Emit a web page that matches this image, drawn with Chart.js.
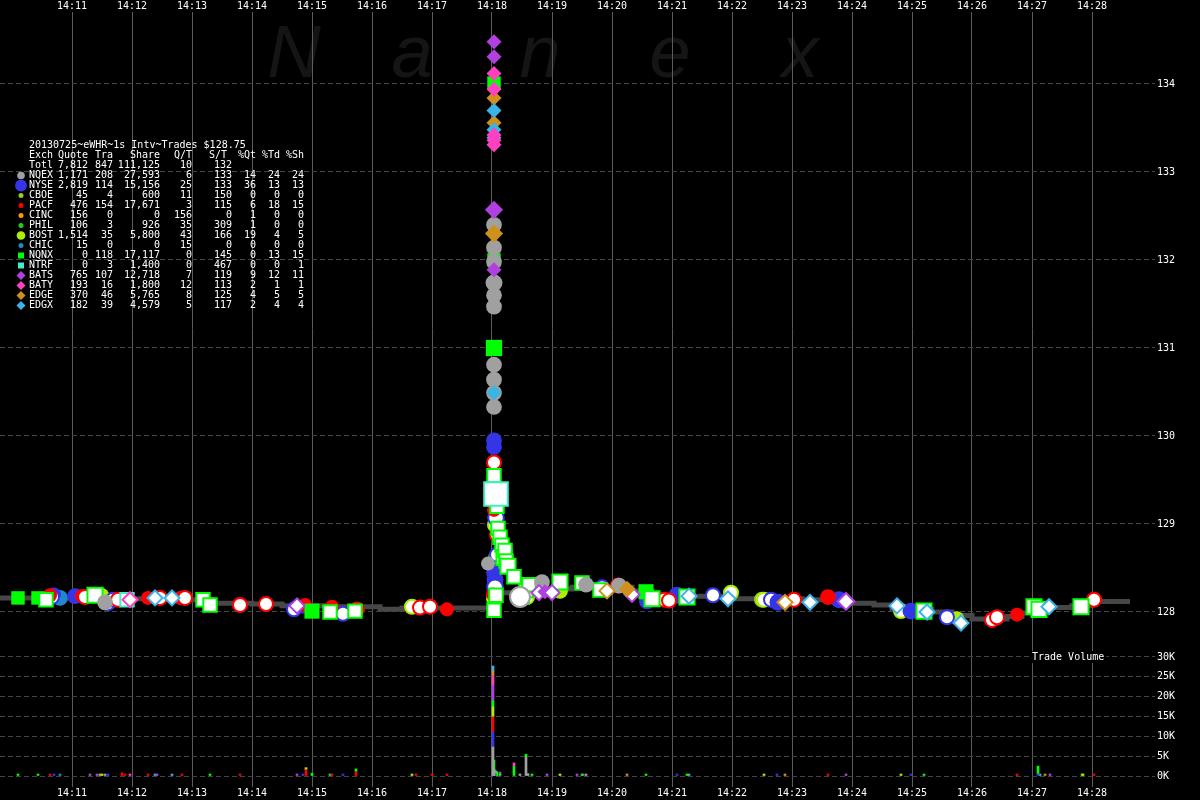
<!DOCTYPE html>
<html>
<head>
<meta charset="utf-8">
<title>Nanex eWHR trades 2013-07-25</title>
<script src="https://cdn.jsdelivr.net/npm/chart.js@4.4.1/dist/chart.umd.min.js"></script>
<style>
html,body{margin:0;padding:0;background:#000;}
body{width:1200px;height:800px;position:relative;overflow:hidden;}
canvas{position:absolute;left:0;display:block;}
#priceCanvas{top:0;}
#volCanvas{top:645px;}
</style>
</head>
<body>
<canvas id="priceCanvas" width="1200" height="645"></canvas>
<canvas id="volCanvas" width="1200" height="155"></canvas>
<script>
// ---------------- DATA ----------------
const chartTitle = '20130725~eWHR~1s Intv~Trades $128.75';
const watermark = ['N', 'a', 'n', 'e', 'x'];
const volumeLabel = 'Trade Volume';

const timeTicks = ['14:11','14:12','14:13','14:14','14:15','14:16','14:17','14:18','14:19',
                   '14:20','14:21','14:22','14:23','14:24','14:25','14:26','14:27','14:28'];
const priceTicks = [128, 129, 130, 131, 132, 133, 134];
const volumeTicks = [0, 5000, 10000, 15000, 20000, 25000, 30000];

// summary table
const tableHeader = ['Exch', 'Quote', 'Tra', 'Share', 'Q/T', 'S/T', '%Qt', '%Td', '%Sh'];
const totalRow = ['Totl', 7812, 847, 111125, 10, 132];
const exchanges   = ['NQEX','NYSE','CBOE','PACF','CINC','PHIL','BOST','CHIC','NQNX','NTRF','BATS','BATY','EDGE','EDGX'];
const exchQuotes  = [1171, 2819, 45, 476, 156, 106, 1514, 15, 0, 0, 765, 193, 370, 182];
const exchTrades  = [208, 114, 4, 154, 0, 3, 35, 0, 118, 3, 107, 16, 46, 39];
const exchShares  = [27593, 15156, 600, 17671, 0, 926, 5800, 0, 17117, 1400, 12718, 1800, 5765, 4579];
const exchQPerT   = [6, 25, 11, 3, 156, 35, 43, 15, 0, 0, 7, 12, 8, 5];
const exchSPerT   = [133, 133, 150, 115, 0, 309, 166, 0, 145, 467, 119, 113, 125, 117];
const exchPctQt   = [14, 36, 0, 6, 1, 1, 19, 0, 0, 0, 9, 2, 4, 2];
const exchPctTd   = [24, 13, 0, 18, 0, 0, 4, 0, 13, 0, 12, 1, 5, 4];
const exchPctSh   = [24, 13, 0, 15, 0, 0, 5, 0, 15, 1, 11, 1, 5, 4];

// trades: [time, price, shares, sale condition]  ('F' = intermarket sweep)
const tradesNQEX = [
  ['14:11:33',128.11,150,''],['14:17:56',128.55,100,''],
  ['14:18:02',132.40,150,''],['14:18:02',132.14,150,''],['14:18:02',131.98,150,''],
  ['14:18:02',131.74,200,''],['14:18:02',131.60,150,''],['14:18:02',131.47,150,''],
  ['14:18:02',130.81,150,''],['14:18:02',130.64,150,''],['14:18:02',130.49,150,''],
  ['14:18:02',130.33,150,''],['14:18:28',128.17,400,'F'],['14:18:50',128.34,150,''],
  ['14:19:34',128.31,150,''],['14:20:07',128.30,150,'']
];
const tradesNYSE = [
  ['14:10:42',128.20,100,''],['14:10:40',128.17,100,'F'],['14:11:03',128.18,150,''],
  ['14:11:36',128.10,100,'F'],['14:11:41',128.14,100,'F'],['14:14:42',128.03,100,'F'],
  ['14:14:51',128.06,100,''],['14:15:31',127.98,100,'F'],['14:18:02',129.95,150,''],
  ['14:18:02',129.875,150,''],['14:18:02',128.45,150,''],['14:18:03',128.37,200,''],
  ['14:18:03',128.28,150,'F'],['14:18:04',129.07,150,'F'],['14:18:05',128.65,100,'F'],
  ['14:19:50',128.28,100,'F'],['14:20:35',128.12,150,''],['14:21:05',128.19,200,''],
  ['14:21:41',128.19,100,'F'],['14:22:39',128.14,100,'F'],['14:22:46',128.11,200,''],
  ['14:23:47',128.14,200,''],['14:24:59',128.01,200,''],['14:25:35',127.94,100,'F']
];
const tradesCBOE = [['14:11:28',128.19,100,'F'],['14:22:30',128.14,100,'F']];
const tradesPACF = [
  ['14:10:38',128.19,100,''],['14:11:10',128.18,100,''],['14:11:13',128.17,100,'F'],
  ['14:11:46',128.14,100,'F'],['14:12:16',128.16,100,''],['14:12:28',128.16,100,'F'],
  ['14:12:48',128.16,100,''],['14:12:53',128.16,100,'F'],['14:13:48',128.08,100,'F'],
  ['14:14:14',128.09,100,'F'],['14:14:53',128.08,100,''],['14:15:20',128.06,100,''],
  ['14:15:45',128.03,150,''],['14:16:48',128.05,100,'F'],['14:16:58',128.06,100,'F'],
  ['14:17:15',128.03,100,''],['14:18:01',128.20,100,''],['14:18:02',129.16,100,''],
  ['14:18:02',129.70,100,'F'],['14:18:05',128.875,100,'F'],['14:20:06',128.30,100,'F'],
  ['14:20:52',128.14,100,'F'],['14:20:57',128.13,100,'F'],['14:23:02',128.14,100,'F'],
  ['14:23:36',128.17,150,''],['14:26:20',127.91,100,'F'],['14:26:25',127.94,100,'F'],
  ['14:26:45',127.97,100,''],['14:28:02',128.14,100,'F']
];
const tradesCINC = [];
const tradesPHIL = [['14:18:03',128.62,100,'']];
const tradesBOST = [
  ['14:11:30',128.19,100,''],['14:16:40',128.06,100,'F'],['14:18:01',128.15,100,''],
  ['14:18:03',128.99,100,'F'],['14:18:35',128.17,100,'F'],['14:19:08',128.24,150,''],
  ['14:21:59',128.22,100,'F'],['14:22:32',128.14,100,'F'],['14:24:49',128.01,100,'F'],
  ['14:25:45',127.93,100,'']
];
const tradesCHIC = [['14:10:48',128.16,150,'']];
const tradesNQNX = [
  ['14:10:06',128.16,100,''],['14:10:26',128.16,100,''],['14:10:34',128.14,100,'F'],
  ['14:11:23',128.19,150,'F'],['14:13:11',128.14,100,'F'],['14:13:18',128.08,100,'F'],
  ['14:15:00',128.01,150,''],['14:15:18',128.00,100,'F'],['14:15:43',128.01,100,'F'],
  ['14:18:02',134.01,100,''],['14:18:02',132.00,100,''],['14:18:02',131.00,200,''],
  ['14:18:02',129.55,100,'F'],['14:18:02',128.02,100,'F'],['14:18:04',128.19,100,'F'],
  ['14:18:05',129.20,100,'F'],['14:18:06',128.95,100,'F'],['14:18:08',128.85,100,'F'],
  ['14:18:10',128.76,100,'F'],['14:18:12',128.62,150,'F'],['14:18:13',128.70,100,'F'],
  ['14:18:14',128.58,100,'F'],['14:18:16',128.52,150,'F'],['14:18:22',128.40,100,'F'],
  ['14:18:30',128.17,100,'F'],['14:18:34',128.24,100,'F'],['14:18:37',128.31,100,'F'],
  ['14:19:08',128.34,150,'F'],['14:19:30',128.33,100,'F'],['14:19:48',128.25,100,'F'],
  ['14:20:34',128.23,150,''],['14:20:40',128.15,150,'F'],['14:21:15',128.17,150,'F'],
  ['14:25:12',128.01,150,'F'],['14:27:02',128.06,150,'F'],['14:27:07',128.03,150,'F'],
  ['14:27:49',128.06,150,'F']
];
const tradesNTRF = [['14:11:55',128.14,100,'F'],['14:18:04',129.34,1200,'F']];
const tradesBATS = [
  ['14:14:45',128.07,100,'F'],['14:18:02',134.48,100,''],['14:18:02',134.31,100,''],
  ['14:18:02',132.57,200,''],['14:18:02',131.89,100,''],['14:18:47',128.22,100,'F'],
  ['14:18:53',128.23,100,''],['14:19:00',128.22,100,'F'],['14:20:20',128.20,100,'F'],
  ['14:23:54',128.12,150,'F']
];
const tradesBATY = [
  ['14:11:58',128.14,100,'F'],['14:18:02',134.12,100,''],['14:18:02',133.94,100,''],
  ['14:18:02',133.42,100,''],['14:18:02',133.36,100,''],['14:18:02',133.31,100,'']
];
const tradesEDGE = [
  ['14:18:02',133.84,100,''],['14:18:02',133.56,100,''],['14:18:02',132.30,200,''],
  ['14:19:55',128.24,100,'F'],['14:20:15',128.26,150,''],['14:22:53',128.11,100,'F']
];
const tradesEDGX = [
  ['14:12:23',128.16,100,'F'],['14:12:40',128.16,100,'F'],['14:18:02',133.70,100,''],
  ['14:18:02',133.48,100,''],['14:18:02',133.39,100,''],['14:18:02',130.49,100,''],
  ['14:21:17',128.18,100,'F'],['14:21:56',128.15,100,'F'],['14:23:18',128.11,100,'F'],
  ['14:24:45',128.07,100,'F'],['14:25:15',128.00,100,'F'],['14:25:49',127.875,100,'F'],
  ['14:27:17',128.06,100,'F']
];

// gray step line (inside market)
const lineTimes  = ['14:09:48','14:11:55','14:12:50','14:13:20','14:14:00','14:14:30','14:15:15','14:15:48',
                    '14:16:08','14:16:30','14:18:01','14:18:40','14:19:20','14:20:20','14:20:40','14:21:30',
                    '14:22:00','14:23:10','14:23:50','14:24:22','14:24:40','14:25:20','14:25:40','14:26:00',
                    '14:26:35','14:26:50','14:27:00','14:27:40','14:28:00','14:28:38'];
const linePrices = [128.16,128.15,128.14,128.10,128.09,128.07,128.06,128.06,
                    128.03,128.045,128.22,128.26,128.28,128.24,128.18,128.18,
                    128.15,128.14,128.10,128.08,128.03,128.00,127.96,127.92,
                    127.95,127.99,128.05,128.07,128.12,128.12];

// trade volume per second per exchange: [time, shares]
const volNQEX = [['14:11:33',200],['14:18:01',7300],['14:18:02',1500],['14:18:28',300],['14:18:34',4800],['14:18:36',600],['14:19:34',200]];
const volNYSE = [['14:10:42',200],['14:11:36',300],['14:14:51',300],['14:15:31',500],['14:18:01',3800],['14:18:03',300],['14:21:05',300],['14:22:45',300],['14:24:59',300],['14:27:06',300]];
const volCBOE = [['14:11:28',200]];
const volPACF = [['14:10:38',500],['14:11:50',800],['14:11:53',400],['14:12:16',300],['14:12:50',400],['14:13:48',200],['14:14:54',1600],['14:15:20',300],['14:15:44',1100],['14:16:44',300],['14:17:00',200],['14:17:15',200],['14:18:01',3800],['14:23:36',300],['14:26:45',200],['14:28:02',200]];
const volCINC = [];
const volPHIL = [['14:18:03',300]];
const volBOST = [['14:11:30',300],['14:14:54',400],['14:16:40',200],['14:18:01',2500],['14:19:08',300],['14:22:32',200],['14:24:49',200],['14:27:51',300]];
const volCHIC = [['14:10:48',300]];
const volNQNX = [['14:10:06',200],['14:10:26',200],['14:13:18',500],['14:15:00',700],['14:15:18',300],['14:15:44',700],['14:18:01',1500],['14:18:02',2500],['14:18:05',1000],['14:18:08',500],['14:18:22',2400],['14:18:34',700],['14:18:40',300],['14:19:30',300],['14:20:34',300],['14:21:15',200],['14:25:12',300],['14:27:06',2000],['14:27:50',500]];
const volNTRF = [['14:18:04',1200]];
const volBATS = [['14:11:18',200],['14:11:25',400],['14:12:25',400],['14:14:45',200],['14:18:01',4000],['14:18:03',500],['14:18:08',300],['14:18:55',300],['14:19:25',400],['14:19:31',300],['14:23:54',300],['14:27:18',200]];
const volBATY = [['14:11:58',200],['14:18:01',2500],['14:18:22',900]];
const volEDGE = [['14:18:01',1000],['14:20:15',300],['14:22:53',200],['14:27:13',200]];
const volEDGX = [['14:12:23',200],['14:12:40',200],['14:18:01',1300],['14:21:17',200],['14:27:08',400]];

// ---------------- STYLE / HELPERS ----------------
const MONO = "'DejaVu Sans Mono', monospace";
const exchColor = {
  NQEX:'#a0a0a0', NYSE:'#3535e8', CBOE:'#99cc22', PACF:'#ff0000', CINC:'#ff9900', PHIL:'#22cc22',
  BOST:'#aaf000', CHIC:'#2288cc', NQNX:'#00ff00', NTRF:'#40f0c8', BATS:'#b040e0', BATY:'#ff40c0',
  EDGE:'#d0901c', EDGX:'#38b4e8'
};
const exchShape = {
  NQEX:'circle', NYSE:'circle', CBOE:'circle', PACF:'circle', CINC:'circle', PHIL:'circle',
  BOST:'circle', CHIC:'circle', NQNX:'rect', NTRF:'rect', BATS:'rectRot', BATY:'rectRot',
  EDGE:'rectRot', EDGX:'rectRot'
};
const tradesBy = {NQEX:tradesNQEX, NYSE:tradesNYSE, CBOE:tradesCBOE, PACF:tradesPACF, CINC:tradesCINC,
  PHIL:tradesPHIL, BOST:tradesBOST, CHIC:tradesCHIC, NQNX:tradesNQNX, NTRF:tradesNTRF, BATS:tradesBATS,
  BATY:tradesBATY, EDGE:tradesEDGE, EDGX:tradesEDGX};
const volBy = {NQEX:volNQEX, NYSE:volNYSE, CBOE:volCBOE, PACF:volPACF, CINC:volCINC, PHIL:volPHIL,
  BOST:volBOST, CHIC:volCHIC, NQNX:volNQNX, NTRF:volNTRF, BATS:volBATS, BATY:volBATY, EDGE:volEDGE, EDGX:volEDGX};
// drawing z-order, topmost first
const drawOrder = ['BATY','EDGX','EDGE','BATS','NQEX','NTRF','NQNX','PACF','NYSE','BOST','CBOE','PHIL','CHIC','CINC'];

function toSec(t){ const p = t.split(':').map(Number); return p[0]*3600 + p[1]*60 + (p[2] || 0); }
function fmtTime(s){ const h = Math.floor(s/3600), m = Math.floor((s%3600)/60); return h + ':' + String(m).padStart(2,'0'); }
function markRadius(shape, shares){
  const f = 1 + 0.7*Math.log10(Math.max(shares,100)/100);
  const base = shape === 'rect' ? 9.5 : (shape === 'rectRot' ? 7.5 : 7);
  return base*f;
}
const fmtNum = n => Number(n).toLocaleString('en-US');

const XMIN = toSec('14:11:00') - 72;   // left edge of plot
const XMAX = toSec('14:11:00') + 1083; // right edge of plot

// ---------------- PLUGINS ----------------
const pricePlugin = {
  id: 'priceDecor',
  beforeDraw(chart){
    const ctx = chart.ctx;
    ctx.save();
    ctx.fillStyle = '#000';
    ctx.fillRect(0, 0, chart.width, chart.height);
    ctx.fillStyle = '#151515';
    ctx.font = "italic 74px 'Liberation Sans', sans-serif";
    ctx.textAlign = 'center';
    ctx.textBaseline = 'alphabetic';
    const cx = [294, 412, 540, 670, 800];
    watermark.forEach((ch, i) => ctx.fillText(ch, cx[i], 77));
    ctx.restore();
  },
  afterDraw(chart){
    const ctx = chart.ctx;
    ctx.save();
    ctx.font = '10px ' + MONO;
    ctx.fillStyle = '#ffffff';
    ctx.textBaseline = 'middle';
    const rowY = i => 145.5 + 10*i;
    const rightCols = [88, 113, 160, 192, 232, 256, 280, 304];
    const headRight = [88, 113, 160, 192, 227, 256, 280, 304];
    ctx.textAlign = 'left';
    ctx.fillText(chartTitle, 29, rowY(0));
    ctx.fillText(tableHeader[0], 29, rowY(1));
    ctx.textAlign = 'right';
    for (let c = 1; c < tableHeader.length; c++) ctx.fillText(tableHeader[c], headRight[c-1], rowY(1));
    ctx.textAlign = 'left';
    ctx.fillText(totalRow[0], 29, rowY(2));
    ctx.textAlign = 'right';
    for (let c = 1; c < totalRow.length; c++) ctx.fillText(fmtNum(totalRow[c]), rightCols[c-1], rowY(2));
    exchanges.forEach((ex, i) => {
      const y = rowY(3 + i);
      const vals = [exchQuotes[i], exchTrades[i], exchShares[i], exchQPerT[i], exchSPerT[i], exchPctQt[i], exchPctTd[i], exchPctSh[i]];
      ctx.fillStyle = '#ffffff';
      ctx.textAlign = 'left';
      ctx.fillText(ex, 29, y);
      ctx.textAlign = 'right';
      vals.forEach((v, c) => ctx.fillText(fmtNum(v), rightCols[c], y));
      // legend marker
      const shape = exchShape[ex];
      ctx.fillStyle = exchColor[ex];
      ctx.beginPath();
      const mx = 21, my = y;
      if (shape === 'circle') {
        const r = Math.max(2.5, Math.sqrt(exchQuotes[i]) / 9);
        ctx.arc(mx, my, r, 0, Math.PI*2);
      } else if (shape === 'rect') {
        ctx.rect(mx - 3, my - 3, 6, 6);
      } else {
        ctx.moveTo(mx, my - 4.5); ctx.lineTo(mx + 4.5, my); ctx.lineTo(mx, my + 4.5); ctx.lineTo(mx - 4.5, my); ctx.closePath();
      }
      ctx.fill();
    });
    ctx.restore();
  }
};

const volPlugin = {
  id: 'volDecor',
  beforeDraw(chart){
    const ctx = chart.ctx;
    ctx.save();
    ctx.fillStyle = '#000';
    ctx.fillRect(0, 0, chart.width, chart.height);
    ctx.restore();
  },
  afterDraw(chart){
    const ctx = chart.ctx;
    ctx.save();
    ctx.font = '10px ' + MONO;
    const w = ctx.measureText(volumeLabel).width;
    ctx.fillStyle = '#000';
    ctx.fillRect(1030, 6, w + 4, 12);
    ctx.fillStyle = '#ffffff';
    ctx.textAlign = 'left';
    ctx.textBaseline = 'middle';
    ctx.fillText(volumeLabel, 1032, 12.5);
    ctx.restore();
  }
};

// ---------------- DATASETS ----------------
const scatterSets = drawOrder.map((ex, k) => {
  const shape = exchShape[ex], col = exchColor[ex];
  return {
    label: ex,
    order: k,
    data: tradesBy[ex].map(t => ({x: toSec(t[0]), y: t[1], s: t[2], c: t[3]})),
    pointStyle: shape,
    pointRadius: ctx => ctx.raw ? markRadius(shape, ctx.raw.s) : 7,
    pointHoverRadius: ctx => ctx.raw ? markRadius(shape, ctx.raw.s) : 7,
    pointBackgroundColor: ctx => (ctx.raw && ctx.raw.c === 'F') ? '#ffffff' : col,
    pointBorderColor: col,
    pointBorderWidth: ctx => (ctx.raw && ctx.raw.c === 'F') ? 2 : 0,
    showLine: false
  };
});
const lineSet = {
  type: 'line',
  label: 'inside',
  order: 100,
  data: lineTimes.map((t, i) => ({x: toSec(t), y: linePrices[i]})),
  borderColor: '#474747',
  borderWidth: 5,
  pointRadius: 0,
  stepped: true,
  fill: false
};

const tickFont = {family: 'DejaVu Sans Mono', size: 10};

new Chart(document.getElementById('priceCanvas'), {
  type: 'scatter',
  data: {datasets: [...scatterSets, lineSet]},
  options: {
    responsive: false, animation: false, devicePixelRatio: 1,
    layout: {padding: 0, autoPadding: false},
    events: [],
    plugins: {legend: {display: false}, tooltip: {enabled: false}},
    scales: {
      x: {
        type: 'linear', position: 'top', min: XMIN, max: XMAX,
        afterBuildTicks: s => { s.ticks = timeTicks.map(t => ({value: toSec(t)})); },
        afterFit: s => { s.height = 12; s.paddingLeft = 0; s.paddingRight = 0; },
        grid: {color: '#5c5c5c', lineWidth: 1, drawTicks: false},
        border: {display: false},
        ticks: {color: '#ffffff', font: tickFont, padding: 0, maxRotation: 0, autoSkip: false, callback: v => fmtTime(v)}
      },
      y: {
        type: 'linear', position: 'right', min: 127.625, max: 134.818,
        afterBuildTicks: s => { s.ticks = priceTicks.map(v => ({value: v})); },
        afterFit: s => { s.width = 45; s.paddingTop = 0; s.paddingBottom = 0; },
        grid: {color: '#444444', lineWidth: 1, drawTicks: false},
        border: {display: false, dash: [5, 3]},
        ticks: {color: '#ffffff', font: tickFont, padding: 2, callback: v => String(v)}
      }
    }
  },
  plugins: [pricePlugin]
});

const barSets = exchanges.map(ex => ({
  label: ex,
  data: volBy[ex].map(v => ({x: toSec(v[0]), y: v[1]})),
  backgroundColor: exchColor[ex],
  borderWidth: 0,
  barThickness: 2,
  minBarLength: 2
}));

new Chart(document.getElementById('volCanvas'), {
  type: 'bar',
  data: {datasets: barSets},
  options: {
    responsive: false, animation: false, devicePixelRatio: 1,
    layout: {padding: 0, autoPadding: false},
    events: [],
    plugins: {legend: {display: false}, tooltip: {enabled: false}},
    scales: {
      x: {
        type: 'linear', position: 'bottom', min: XMIN, max: XMAX, stacked: true, offset: false,
        afterBuildTicks: s => { s.ticks = timeTicks.map(t => ({value: toSec(t)})); },
        afterFit: s => { s.height = 13; s.paddingLeft = 0; s.paddingRight = 0; },
        grid: {color: '#5c5c5c', lineWidth: 1, drawTicks: false, offset: false},
        border: {display: false},
        ticks: {color: '#ffffff', font: tickFont, padding: 0, maxRotation: 0, autoSkip: false, callback: v => fmtTime(v)}
      },
      y: {
        type: 'linear', position: 'right', min: -2770, max: 33000, stacked: true,
        afterBuildTicks: s => { s.ticks = volumeTicks.map(v => ({value: v})); },
        afterFit: s => { s.width = 45; s.paddingTop = 0; s.paddingBottom = 0; },
        grid: {color: '#444444', lineWidth: 1, drawTicks: false},
        border: {display: false, dash: [5, 3]},
        ticks: {color: '#ffffff', font: tickFont, padding: 2, callback: v => (v/1000) + 'K'}
      }
    }
  },
  plugins: [volPlugin]
});
</script>
</body>
</html>
